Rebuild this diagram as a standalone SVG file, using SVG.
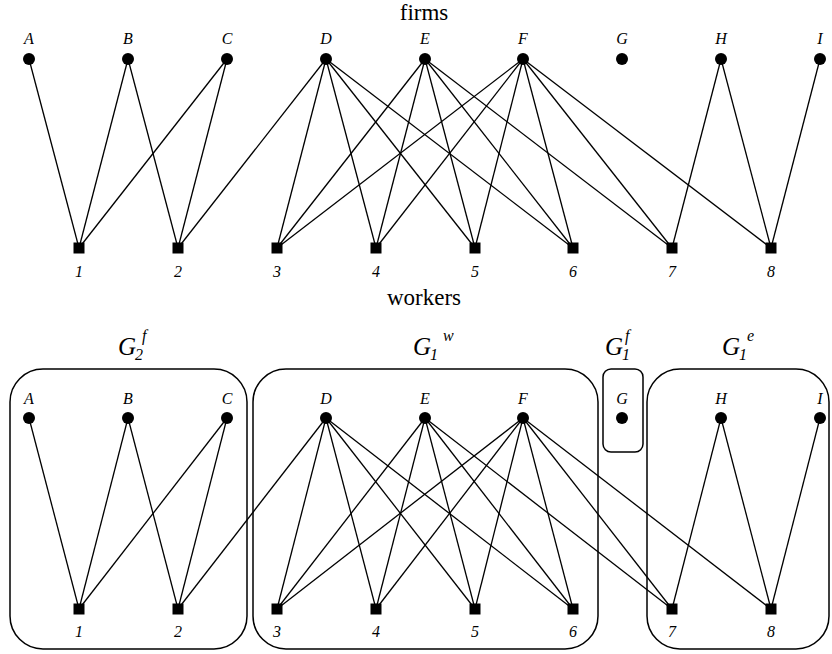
<svg xmlns="http://www.w3.org/2000/svg" width="832" height="654" viewBox="0 0 832 654">
<style>
.e{stroke:#000;stroke-width:1.3;fill:none}
.box{stroke:#000;stroke-width:1.5;fill:none}
.c{fill:#000}
.lbl{font-family:"Liberation Serif","Times New Roman",serif;font-style:italic;font-size:16px;text-anchor:middle;fill:#000}
.num{font-family:"Liberation Serif","Times New Roman",serif;font-style:italic;font-size:16px;text-anchor:middle;fill:#000}
.ttl{font-family:"Liberation Serif","Times New Roman",serif;font-size:23px;text-anchor:middle;fill:#000}
.g{font-family:"Liberation Serif","Times New Roman",serif;font-style:italic;font-size:25px;fill:#000}
.gs{font-family:"Liberation Serif","Times New Roman",serif;font-style:italic;font-size:16px;fill:#000}
</style>
<rect width="832" height="654" fill="#fff"/>
<text class="ttl" x="424" y="20">firms</text>
<text class="ttl" x="424" y="305">workers</text>

<g id="connectors-top">
<line class="e" x1="29" y1="59" x2="79" y2="248"/>
<line class="e" x1="128" y1="59" x2="79" y2="248"/>
<line class="e" x1="128" y1="59" x2="178" y2="248"/>
<line class="e" x1="227" y1="59" x2="79" y2="248"/>
<line class="e" x1="227" y1="59" x2="178" y2="248"/>
<line class="e" x1="326" y1="59" x2="178" y2="248"/>
<line class="e" x1="326" y1="59" x2="277" y2="248"/>
<line class="e" x1="326" y1="59" x2="376" y2="248"/>
<line class="e" x1="326" y1="59" x2="475" y2="248"/>
<line class="e" x1="326" y1="59" x2="573" y2="248"/>
<line class="e" x1="425" y1="59" x2="277" y2="248"/>
<line class="e" x1="425" y1="59" x2="376" y2="248"/>
<line class="e" x1="425" y1="59" x2="475" y2="248"/>
<line class="e" x1="425" y1="59" x2="573" y2="248"/>
<line class="e" x1="425" y1="59" x2="672" y2="248"/>
<line class="e" x1="523" y1="59" x2="277" y2="248"/>
<line class="e" x1="523" y1="59" x2="376" y2="248"/>
<line class="e" x1="523" y1="59" x2="475" y2="248"/>
<line class="e" x1="523" y1="59" x2="573" y2="248"/>
<line class="e" x1="523" y1="59" x2="672" y2="248"/>
<line class="e" x1="523" y1="59" x2="771" y2="248"/>
<line class="e" x1="721" y1="59" x2="672" y2="248"/>
<line class="e" x1="721" y1="59" x2="771" y2="248"/>
<line class="e" x1="820" y1="59" x2="771" y2="248"/>
</g>

<g id="firms-top">
<g id="tA"><circle class="c" cx="29" cy="59" r="6"/><text class="lbl" x="29" y="44">A</text></g>
<g id="tB"><circle class="c" cx="128" cy="59" r="6"/><text class="lbl" x="128" y="44">B</text></g>
<g id="tC"><circle class="c" cx="227" cy="59" r="6"/><text class="lbl" x="227" y="44">C</text></g>
<g id="tD"><circle class="c" cx="326" cy="59" r="6"/><text class="lbl" x="326" y="44">D</text></g>
<g id="tE"><circle class="c" cx="425" cy="59" r="6"/><text class="lbl" x="425" y="44">E</text></g>
<g id="tF"><circle class="c" cx="523" cy="59" r="6"/><text class="lbl" x="523" y="44">F</text></g>
<g id="tG"><circle class="c" cx="622" cy="59" r="6"/><text class="lbl" x="622" y="44">G</text></g>
<g id="tH"><circle class="c" cx="721" cy="59" r="6"/><text class="lbl" x="721" y="44">H</text></g>
<g id="tI"><circle class="c" cx="820" cy="59" r="6"/><text class="lbl" x="820" y="44">I</text></g>
</g>
<g id="workers-top">
<g id="t1"><rect class="c" x="73.5" y="242.5" width="11" height="11"/><text class="num" x="79" y="277">1</text></g>
<g id="t2"><rect class="c" x="172.5" y="242.5" width="11" height="11"/><text class="num" x="178" y="277">2</text></g>
<g id="t3"><rect class="c" x="271.5" y="242.5" width="11" height="11"/><text class="num" x="277" y="277">3</text></g>
<g id="t4"><rect class="c" x="370.5" y="242.5" width="11" height="11"/><text class="num" x="376" y="277">4</text></g>
<g id="t5"><rect class="c" x="469.5" y="242.5" width="11" height="11"/><text class="num" x="475" y="277">5</text></g>
<g id="t6"><rect class="c" x="567.5" y="242.5" width="11" height="11"/><text class="num" x="573" y="277">6</text></g>
<g id="t7"><rect class="c" x="666.5" y="242.5" width="11" height="11"/><text class="num" x="672" y="277">7</text></g>
<g id="t8"><rect class="c" x="765.5" y="242.5" width="11" height="11"/><text class="num" x="771" y="277">8</text></g>
</g>

<g id="groups">
<g id="G2f"><rect class="box" x="10" y="369" width="237" height="280" rx="33" ry="33"/>
<text class="g" x="118" y="355">G</text><text class="gs" x="135" y="360">2</text><text class="gs" x="142" y="341">f</text></g>
<g id="G1w"><rect class="box" x="253" y="369" width="345" height="280" rx="33" ry="33"/>
<text class="g" x="413" y="355">G</text><text class="gs" x="430" y="360">1</text><text class="gs" x="443" y="341">w</text></g>
<g id="G1f"><rect class="box" x="603" y="369" width="40" height="83" rx="8" ry="8"/>
<text class="g" x="605" y="355">G</text><text class="gs" x="622" y="360">1</text><text class="gs" x="625" y="341">f</text></g>
<g id="G1e"><rect class="box" x="647" y="369" width="182" height="280" rx="33" ry="33"/>
<text class="g" x="722" y="355">G</text><text class="gs" x="739" y="360">1</text><text class="gs" x="747" y="341">e</text></g>
</g>

<g id="connectors-bottom">
<line class="e" x1="29" y1="418" x2="79" y2="609"/>
<line class="e" x1="128" y1="418" x2="79" y2="609"/>
<line class="e" x1="128" y1="418" x2="178" y2="609"/>
<line class="e" x1="227" y1="418" x2="79" y2="609"/>
<line class="e" x1="227" y1="418" x2="178" y2="609"/>
<line class="e" x1="326" y1="418" x2="178" y2="609"/>
<line class="e" x1="326" y1="418" x2="277" y2="609"/>
<line class="e" x1="326" y1="418" x2="376" y2="609"/>
<line class="e" x1="326" y1="418" x2="475" y2="609"/>
<line class="e" x1="326" y1="418" x2="573" y2="609"/>
<line class="e" x1="425" y1="418" x2="277" y2="609"/>
<line class="e" x1="425" y1="418" x2="376" y2="609"/>
<line class="e" x1="425" y1="418" x2="475" y2="609"/>
<line class="e" x1="425" y1="418" x2="573" y2="609"/>
<line class="e" x1="425" y1="418" x2="672" y2="609"/>
<line class="e" x1="523" y1="418" x2="277" y2="609"/>
<line class="e" x1="523" y1="418" x2="376" y2="609"/>
<line class="e" x1="523" y1="418" x2="475" y2="609"/>
<line class="e" x1="523" y1="418" x2="573" y2="609"/>
<line class="e" x1="523" y1="418" x2="672" y2="609"/>
<line class="e" x1="523" y1="418" x2="771" y2="609"/>
<line class="e" x1="721" y1="418" x2="672" y2="609"/>
<line class="e" x1="721" y1="418" x2="771" y2="609"/>
<line class="e" x1="820" y1="418" x2="771" y2="609"/>
</g>

<g id="firms-bottom">
<g id="bA"><circle class="c" cx="29" cy="418" r="6"/><text class="lbl" x="29" y="404">A</text></g>
<g id="bB"><circle class="c" cx="128" cy="418" r="6"/><text class="lbl" x="128" y="404">B</text></g>
<g id="bC"><circle class="c" cx="227" cy="418" r="6"/><text class="lbl" x="227" y="404">C</text></g>
<g id="bD"><circle class="c" cx="326" cy="418" r="6"/><text class="lbl" x="326" y="404">D</text></g>
<g id="bE"><circle class="c" cx="425" cy="418" r="6"/><text class="lbl" x="425" y="404">E</text></g>
<g id="bF"><circle class="c" cx="523" cy="418" r="6"/><text class="lbl" x="523" y="404">F</text></g>
<g id="bG"><circle class="c" cx="622" cy="418" r="6"/><text class="lbl" x="622" y="404">G</text></g>
<g id="bH"><circle class="c" cx="721" cy="418" r="6"/><text class="lbl" x="721" y="404">H</text></g>
<g id="bI"><circle class="c" cx="820" cy="418" r="6"/><text class="lbl" x="820" y="404">I</text></g>
</g>
<g id="workers-bottom">
<g id="b1"><rect class="c" x="73.5" y="603.5" width="11" height="11"/><text class="num" x="79" y="637">1</text></g>
<g id="b2"><rect class="c" x="172.5" y="603.5" width="11" height="11"/><text class="num" x="178" y="637">2</text></g>
<g id="b3"><rect class="c" x="271.5" y="603.5" width="11" height="11"/><text class="num" x="277" y="637">3</text></g>
<g id="b4"><rect class="c" x="370.5" y="603.5" width="11" height="11"/><text class="num" x="376" y="637">4</text></g>
<g id="b5"><rect class="c" x="469.5" y="603.5" width="11" height="11"/><text class="num" x="475" y="637">5</text></g>
<g id="b6"><rect class="c" x="567.5" y="603.5" width="11" height="11"/><text class="num" x="573" y="637">6</text></g>
<g id="b7"><rect class="c" x="666.5" y="603.5" width="11" height="11"/><text class="num" x="672" y="637">7</text></g>
<g id="b8"><rect class="c" x="765.5" y="603.5" width="11" height="11"/><text class="num" x="771" y="637">8</text></g>
</g>
</svg>
